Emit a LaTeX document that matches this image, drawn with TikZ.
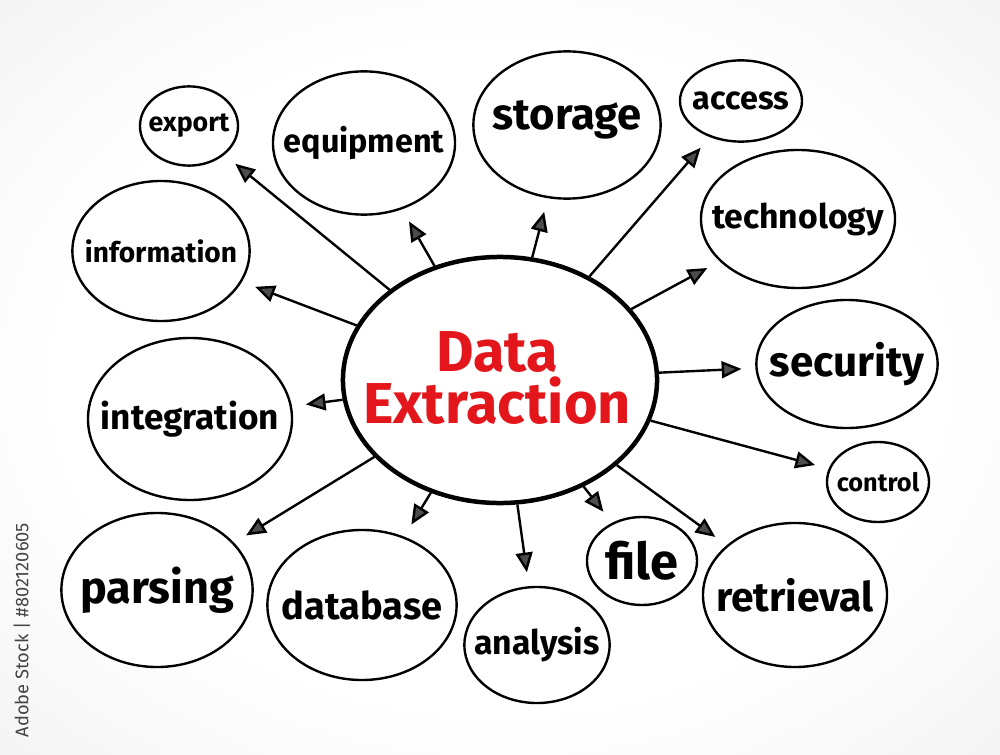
\documentclass[tikz,border=0pt]{standalone}
\usepackage{fontspec}
\setmainfont{Fira Sans}
\usepackage{xcolor}
\usepackage{tikz}
\usetikzlibrary{arrows.meta,shapes.geometric}

\definecolor{inkred}{HTML}{E3161B}
\definecolor{inkgray}{HTML}{444444}
\newcommand{\fs}[1]{\fontsize{#1}{#1}\selectfont\bfseries}
\pgfdeclareradialshading{vignette}{\pgfpoint{0bp}{0bp}}{color(0bp)=(white); color(22bp)=(white); color(38bp)=(black!5); color(50bp)=(black!12)}

\begin{document}
\begin{tikzpicture}[
        x=0.025cm, y=-0.025cm,
        bubble/.style={draw, ellipse, line width=1.7pt, fill=white, inner sep=0pt},
        hubnode/.style={draw, ellipse, line width=3.2pt, fill=white, inner sep=0pt},
        link/.style={->, line width=1.7pt, shorten >=0.35cm},
        >={Triangle[length=14pt, width=12pt, fill=black!70]}
    ]
        \shade[shading=vignette] (0,0) rectangle (1000,755);
        \useasboundingbox (0,0) rectangle (1000,755);

        \node[hubnode, minimum width=7.85cm, minimum height=6.15cm] (hub) at (500,380) {};
        \node[text=inkred, align=center, font=\fs{41}] (title) at (497,378) {Data\\[-4pt]Extraction};

        \node[bubble, minimum width=2.45cm, minimum height=1.98cm, label={[font=\fs{19}]center:export}] (export) at (189,126) {};
        \node[bubble, minimum width=4.55cm, minimum height=3.58cm, label={[font=\fs{23}]center:equipment}] (equipment) at (364,143) {};
        \node[bubble, minimum width=4.68cm, minimum height=3.68cm, label={[font=\fs{31}, yshift=4pt]center:storage}] (storage) at (567,125) {};
        \node[bubble, minimum width=3.05cm, minimum height=2.03cm, label={[font=\fs{23}]center:access}] (access) at (741,101) {};
        \node[bubble, minimum width=4.85cm, minimum height=3.45cm, label={[font=\fs{24}]center:technology}] (technology) at (798,219) {};
        \node[bubble, minimum width=4.43cm, minimum height=3.5cm, label={[font=\fs{20}]center:information}] (information) at (161,251) {};
        \node[bubble, minimum width=4.53cm, minimum height=3.2cm, label={[font=\fs{30}]center:security}] (security) at (847,364) {};
        \node[bubble, minimum width=5.1cm, minimum height=4.05cm, label={[font=\fs{25}]center:integration}] (integration) at (190,419) {};
        \node[bubble, minimum width=2.55cm, minimum height=2cm, label={[font=\fs{18}]center:control}] (control) at (878,482) {};
        \node[bubble, minimum width=4.78cm, minimum height=3.85cm, label={[font=\fs{32}]center:parsing}] (parsing) at (157,590) {};
        \node[bubble, minimum width=4.73cm, minimum height=3.75cm, label={[font=\fs{27}]center:database}] (database) at (362,605) {};
        \node[bubble, minimum width=3.63cm, minimum height=2.9cm, label={[font=\fs{24}]center:analysis}] (analysis) at (537,645) {};
        \node[bubble, minimum width=2.75cm, minimum height=2.2cm, label={[font=\fs{36}]center:file}] (file) at (642,561) {};
        \node[bubble, minimum width=4.6cm, minimum height=3.6cm, label={[font=\fs{29}]center:retrieval}] (retrieval) at (795,595) {};

        \node[rotate=90, text=inkgray, font=\fontsize{13}{13}\selectfont] (stamp) at (22,630) {Adobe Stock | \#802120605};

        \draw[link] (hub) -- (export);
        \draw[link] (hub) -- (equipment);
        \draw[link] (hub) -- (storage);
        \draw[link] (hub) -- (access);
        \draw[link] (hub) -- (technology);
        \draw[link] (hub) -- (information);
        \draw[link] (hub) -- (integration);
        \draw[link] (hub) -- (security);
        \draw[link] (hub) -- (control);
        \draw[link] (hub) -- (retrieval);
        \draw[link] (hub) -- (file);
        \draw[link] (hub) -- (analysis);
        \draw[link] (hub) -- (database);
        \draw[link] (hub) -- (parsing);
    \end{tikzpicture}
\end{document}
